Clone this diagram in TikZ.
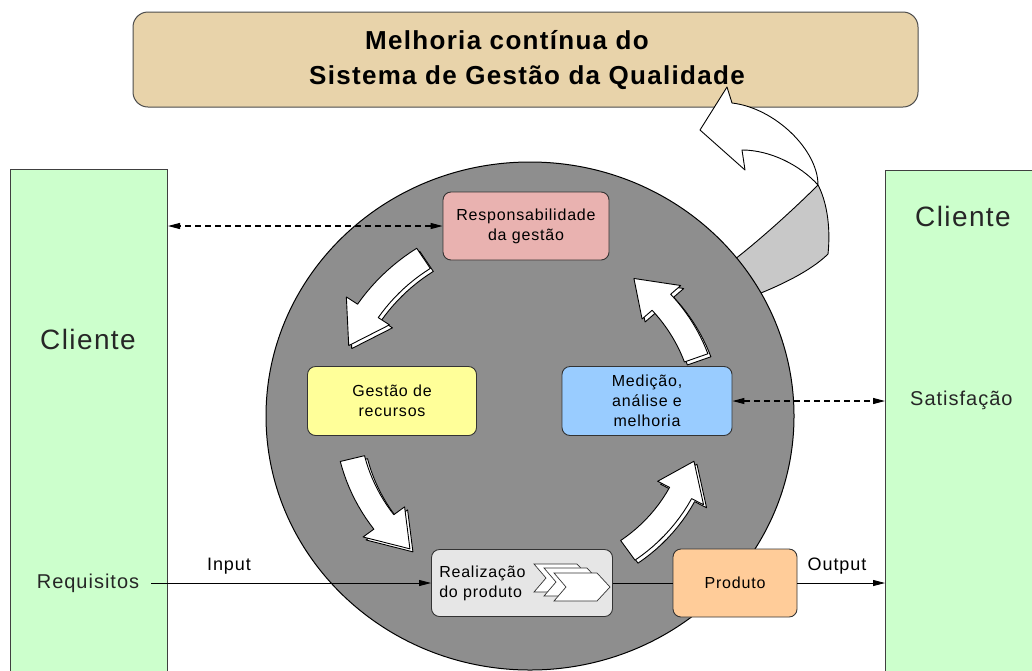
\documentclass[tikz,border=0pt]{standalone}
\usepackage{fontspec}
\setmainfont{Liberation Sans}[LetterSpace=5]
\usetikzlibrary{arrows.meta,calc}
\definecolor{titlefill}{HTML}{E8D3AA}
\definecolor{clientfill}{HTML}{CCFFCC}
\definecolor{circlegray}{HTML}{8E8E8E}
\definecolor{respfill}{HTML}{E9B2B0}
\definecolor{gestfill}{HTML}{FFFF99}
\definecolor{medfill}{HTML}{99CCFF}
\definecolor{realfill}{HTML}{E6E6E6}
\definecolor{prodfill}{HTML}{FFCC99}
\definecolor{bandgray}{HTML}{C8C8C8}
\newcommand\cycarrow[4]{%
  \path[cycstyle] plot[domain=#1:#2,samples=12] ({530+1.04*(#4+12)*cos(\x)},{416+(#4+12)*sin(\x)})
   -- ({530+1.04*(#4+25)*cos(#2)},{416+(#4+25)*sin(#2)})
   -- ({530+1.04*#4*cos(#3)},{416+#4*sin(#3)})
   -- ({530+1.04*(#4-25)*cos(#2)},{416+(#4-25)*sin(#2)})
   -- plot[domain=#2:#1,samples=12] ({530+1.04*(#4-12)*cos(\x)},{416+(#4-12)*sin(\x)}) -- cycle;}
\newcommand\chevshape[2]{%
  \path[chevstyle] (#1,#2) -- ++(43,0) -- ++(13,14) -- ++(-13,14) -- ++(-43,0) -- ++(12,-14) -- cycle;}
\begin{document}
\begin{tikzpicture}[x=1pt,y=-1pt,
  box/.style={draw=black!80, line width=0.9pt, rounded corners=8pt, align=center,
    font=\fontsize{16}{20}\selectfont, inner sep=0pt},
  clientbox/.style={draw=black!75, line width=1pt, fill=clientfill, inner sep=0pt},
  lbl/.style={font=\fontsize{18}{22}\selectfont, inner sep=0pt},
  biglbl/.style={font=\fontsize{28}{32}\selectfont, text=black!85, inner sep=0pt},
  sidelbl/.style={font=\fontsize{20}{24}\selectfont, text=black!85, inner sep=0pt},
  solidarrow/.style={line width=0.8pt, -{Triangle[length=12pt,width=6pt]}},
  dasharrow/.style={line width=1.1pt, dash pattern=on 6pt off 4pt,
    {Triangle[length=12pt,width=6pt]}-{Triangle[length=12pt,width=6pt]}},
  cycstyle/.style={fill=white, draw=black, line width=0.9pt, line join=round},
  chevstyle/.style={fill=white, draw=black!80, line width=0.7pt},
]
\clip (0,0) rectangle (1032,670);
\fill[white] (0,0) rectangle (1032,670);

% title
\node[draw=black!70, line width=1pt, fill=titlefill, rounded corners=15pt,
  minimum width=785, minimum height=95, inner sep=0pt] (title) at (525.5,59.5) {};
\node[font=\fontsize{26}{35}\selectfont\bfseries, align=center, inner sep=0pt] (titletxt) at (527,60)
  {Melhoria contínua do\hspace*{40pt}\\Sistema de Gestão da Qualidade};

% client boxes
\node[clientbox, minimum width=157, minimum height=520, anchor=north west] (cl) at (10,169) {};
\node[clientbox, minimum width=160, minimum height=520, anchor=north west] (cr) at (885,170) {};

% big arrow, gray band
\path[fill=bandgray, draw=black, line width=0.9pt, line join=round]
  (715,272) -- (730,263) .. controls (760,240) and (795,208) .. (818,185)
  .. controls (826,200) and (831,225) .. (828,254)
  .. controls (810,272) and (775,288) .. (748,298) -- (730,304) -- cycle;

% circle
\path[fill=circlegray, draw=black, line width=1pt] (530,416) ellipse [x radius=264, y radius=254];
\coordinate (circ) at (530,416);

% big arrow, white part
\path[fill=white, draw=black, line width=0.9pt, line join=round]
  (727,87) -- (700,130) -- (745,170) -- (742,150)
  .. controls (770,150) and (800,165) .. (818,185)
  .. controls (818,150) and (775,108) .. (732,103) -- cycle;

% cycle arrows
\foreach \a/\b/\c/\r in {237/214/202/188, 166/143/131/176, 55/28/16/164, -20/-42/-54/170}{
  \begin{scope}[shift={(3,3)}]\cycarrow{\a}{\b}{\c}{\r}\end{scope}
  \cycarrow{\a}{\b}{\c}{\r}
}

% process boxes
\node[box, fill=respfill, minimum width=166, minimum height=68] (resp) at (526,226)
  {Responsabilidade\\da gestão};
\node[box, fill=gestfill, minimum width=169, minimum height=69] (gest) at (392,401)
  {Gestão de\\recursos};
\node[box, fill=medfill, minimum width=170, minimum height=69] (med) at (647,401)
  {Medição,\\análise e\\melhoria};
\node[box, fill=realfill, minimum width=181, minimum height=67] (real) at (522,583) {};
\node[font=\fontsize{16}{20}\selectfont, align=left, anchor=west, inner sep=0pt] (realtxt)
  at ([xshift=8pt]real.west) {Realização\\do produto};
\chevshape{534}{564}
\chevshape{544}{568}
\chevshape{554}{573}
\node[box, fill=prodfill, minimum width=124, minimum height=68] (prod) at (735,583) {Produto};

% labels
\node[biglbl] (clt) at (88,339) {Cliente};
\node[biglbl] (crt) at (963,216) {Cliente};
\node[sidelbl] (req) at (88,583) {Requisitos};
\node[sidelbl, anchor=west] (sat) at (910,400) {Satisfação};
\node[lbl] (inp) at (229,566) {Input};
\node[lbl] (outp) at (837,566) {Output};

% connectors
\draw[solidarrow] ([xshift=12pt]req.east) -- (real.west);
\draw[line width=0.8pt] (real.east) -- (prod.west);
\draw[solidarrow] (prod.east) -- (prod.east -| cr.west);
\draw[dasharrow] (resp.west) -- (resp.west -| cl.east);
\draw[dasharrow] (med.east) -- (med.east -| cr.west);
\end{tikzpicture}
\end{document}
